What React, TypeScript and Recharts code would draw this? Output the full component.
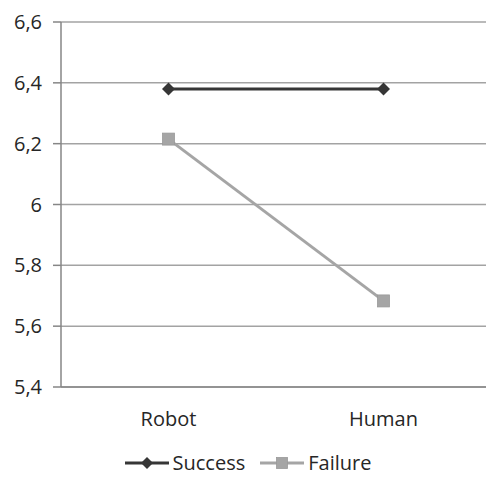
import React from "react";
import {
  LineChart,
  Line,
  XAxis,
  YAxis,
  CartesianGrid,
  Legend,
} from "recharts";

const categories = ["Robot", "Human"];
const successValues = [6.38, 6.38];
const failureValues = [6.215, 5.683];
const yTicks = [5.4, 5.6, 5.8, 6, 6.2, 6.4, 6.6];

const FONT = "'Open Sans', sans-serif";
const SUCCESS_COLOR = "#363636";
const FAILURE_COLOR = "#a5a5a5";

const chartData = categories.map((name, i) => ({
  name,
  Success: successValues[i],
  Failure: failureValues[i],
}));

const formatTick = (v: number) => String(v).replace(".", ",");

function DiamondDot(props: any) {
  const { cx, cy } = props;
  if (cx == null || cy == null) return null;
  const r = 6.5;
  return (
    <path
      d={`M${cx},${cy - r}L${cx + r},${cy}L${cx},${cy + r}L${cx - r},${cy}Z`}
      fill={SUCCESS_COLOR}
    />
  );
}

function SquareDot(props: any) {
  const { cx, cy } = props;
  if (cx == null || cy == null) return null;
  const s = 6;
  return (
    <rect
      x={cx - s}
      y={cy - s}
      width={s * 2}
      height={s * 2}
      fill={FAILURE_COLOR}
      stroke="#999"
      strokeWidth={0.8}
    />
  );
}

function LegendContent() {
  const item = (label: string, color: string, marker: "diamond" | "square") => (
    <div style={{ display: "flex", alignItems: "center", marginRight: 14 }}>
      <svg width={46} height={16} style={{ marginRight: 3 }}>
        <line x1={1} y1={8} x2={45} y2={8} stroke={color} strokeWidth={3} />
        {marker === "diamond" ? (
          <path d="M23,2L29,8L23,14L17,8Z" fill={color} />
        ) : (
          <rect x={17.5} y={2.5} width={11} height={11} fill={color} stroke="#999" strokeWidth={0.8} />
        )}
      </svg>
      <span style={{ fontFamily: FONT, fontSize: 20, color: "#262626" }}>{label}</span>
    </div>
  );
  return (
    <div style={{ display: "flex", justifyContent: "center", paddingTop: 8, marginLeft: 10 }}>
      {item("Success", SUCCESS_COLOR, "diamond")}
      {item("Failure", FAILURE_COLOR, "square")}
    </div>
  );
}

export default function App() {
  return (
    <div
      style={{
        position: "fixed",
        left: 0,
        top: 0,
        width: 486,
        height: 477,
        overflow: "hidden",
        background: "#fff",
      }}
    >
      <LineChart
        width={491}
        height={477}
        data={chartData}
        margin={{ top: 22, right: 0, left: 8, bottom: 0 }}
      >
        <CartesianGrid vertical={false} stroke="#a3a3a3" strokeWidth={1.5} />
        <XAxis
          dataKey="name"
          scale="band"
          height={54}
          tickLine={false}
          tickSize={0}
          tickMargin={25}
          axisLine={{ stroke: "#868686", strokeWidth: 1.5 }}
          tick={{ fill: "#262626", fontSize: 20, fontFamily: FONT }}
        />
        <YAxis
          width={53}
          domain={[5.4, 6.6]}
          ticks={yTicks}
          tickFormatter={formatTick}
          tickSize={8}
          tickMargin={11}
          axisLine={{ stroke: "#868686", strokeWidth: 1.5 }}
          tickLine={{ stroke: "#868686", strokeWidth: 1.5 }}
          tick={{ fill: "#262626", fontSize: 20, fontFamily: FONT }}
        />
        <Legend verticalAlign="bottom" height={36} content={<LegendContent />} />
        <Line
          dataKey="Success"
          stroke={SUCCESS_COLOR}
          strokeWidth={3}
          dot={<DiamondDot />}
          activeDot={false}
          isAnimationActive={false}
        />
        <Line
          dataKey="Failure"
          stroke={FAILURE_COLOR}
          strokeWidth={3}
          dot={<SquareDot />}
          activeDot={false}
          isAnimationActive={false}
        />
      </LineChart>
    </div>
  );
}
